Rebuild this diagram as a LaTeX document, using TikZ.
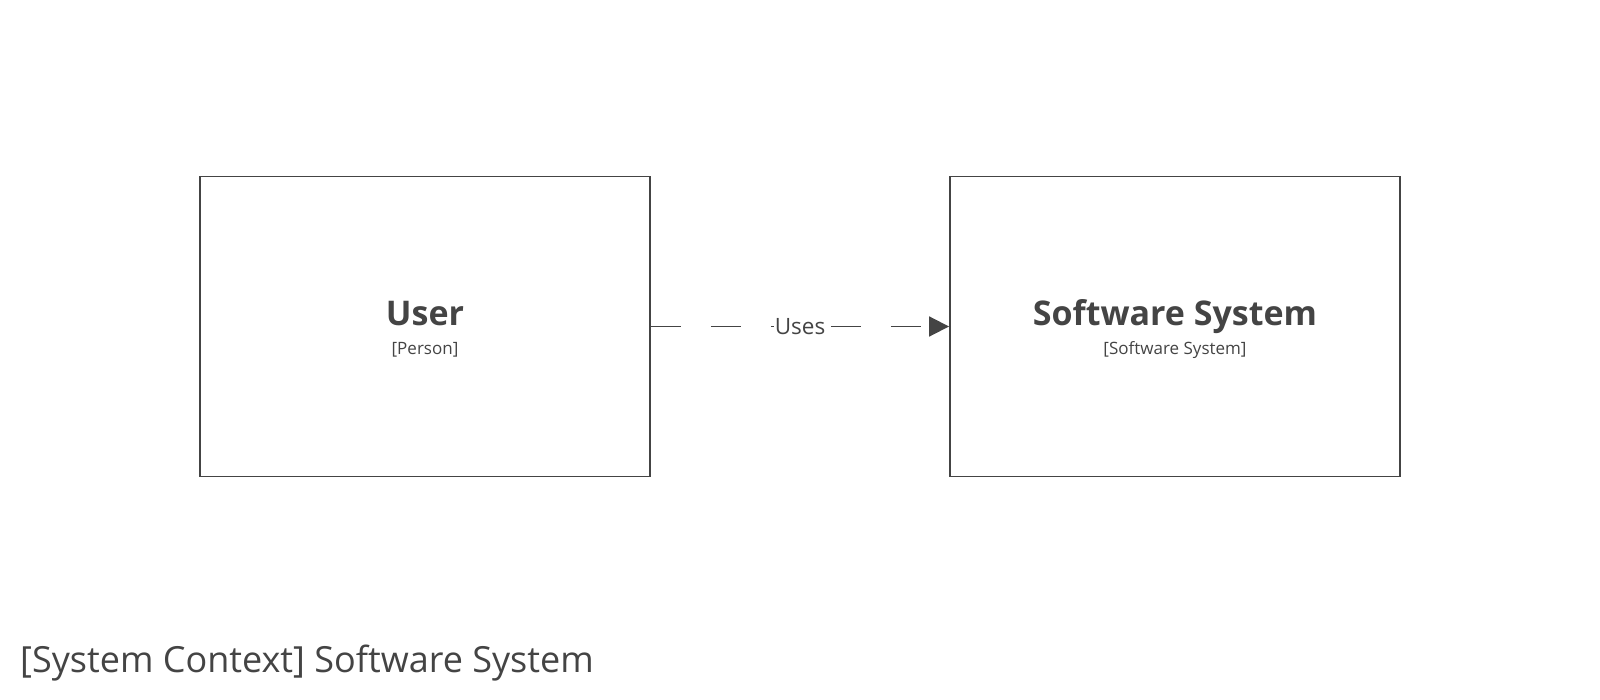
\documentclass[tikz,border=0pt]{standalone}
\usepackage{fontspec}
\setmainfont{Open Sans}
\usetikzlibrary{arrows.meta}
\definecolor{ink}{HTML}{444444}
\tikzset{
  sysbox/.style={draw=ink, line width=1.9pt, minimum width=450pt, minimum height=300pt, inner sep=0pt},
  nametext/.style={font=\fontsize{34}{34}\selectfont\bfseries, text=ink, anchor=base},
  typetext/.style={font=\fontsize{17}{17}\selectfont, text=ink, anchor=base},
  rel/.style={draw=ink, line width=1.9pt, dash pattern=on 30pt off 30pt, -{Triangle[length=20pt,width=20pt]}},
  rellabel/.style={font=\fontsize{22.5}{22.5}\selectfont, text=ink, fill=white, inner sep=0.5pt}
}
\begin{document}
\begin{tikzpicture}[x=1pt,y=-1pt]
\useasboundingbox (0,0) rectangle (1600,700);
\node[sysbox] (user) at (425,326.5) {};
\node[sysbox] (sys) at (1175,326.5) {};
\node[nametext] (userN) at (425,326) {User};
\node[typetext] (userT) at (425,354) {[Person]};
\node[nametext] (sysN) at (1175,326) {Software System};
\node[typetext] (sysT) at (1175,354) {[Software System]};
\draw[rel] (user.east) -- node[rellabel] (uses) {Uses} (sys.west);
\node[font=\fontsize{36}{36}\selectfont, text=ink, anchor=base west, inner sep=0pt] (title) at (20,672) {[System Context] Software System};
\end{tikzpicture}
\end{document}
